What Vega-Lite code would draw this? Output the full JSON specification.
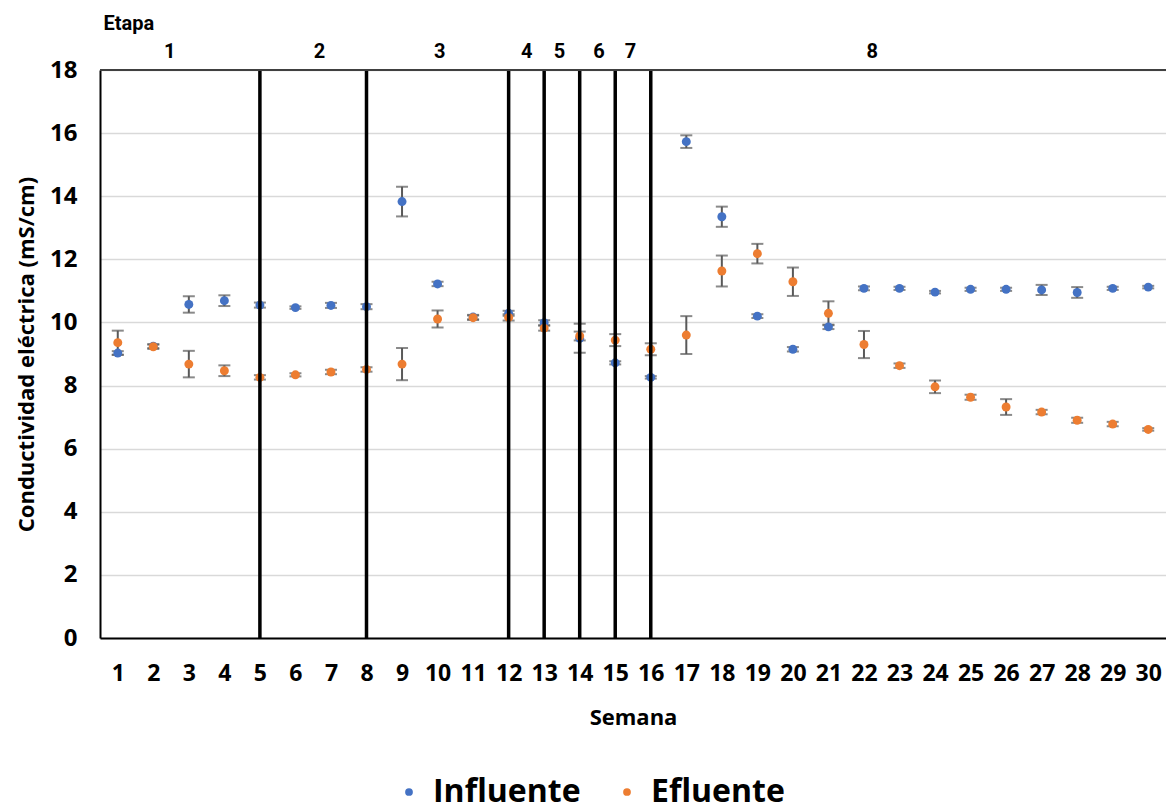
{
  "$schema": "https://vega.github.io/schema/vega-lite/v6.json",
  "width": 1066,
  "height": 568,
  "autosize": {"type": "none"},
  "padding": {"left": 100, "top": 70, "right": 0, "bottom": 173},
  "background": "white",
  "config": {
    "view": {"stroke": null},
    "font": "Open Sans",
    "axis": {"labelFont": "Open Sans", "titleFont": "Open Sans", "labelColor": "#000000", "titleColor": "#000000", "labelOverlap": false}
  },
  "datasets": {
    "medidas": [
      {"semana": 1, "serie": "Influente", "valor": 9.03, "de": 0.06},
      {"semana": 2, "serie": "Influente", "valor": 9.25, "de": 0.06},
      {"semana": 3, "serie": "Influente", "valor": 10.57, "de": 0.26},
      {"semana": 4, "serie": "Influente", "valor": 10.69, "de": 0.17},
      {"semana": 5, "serie": "Influente", "valor": 10.55, "de": 0.08},
      {"semana": 6, "serie": "Influente", "valor": 10.47, "de": 0.04},
      {"semana": 7, "serie": "Influente", "valor": 10.54, "de": 0.08},
      {"semana": 8, "serie": "Influente", "valor": 10.5, "de": 0.08},
      {"semana": 9, "serie": "Influente", "valor": 13.83, "de": 0.47},
      {"semana": 10, "serie": "Influente", "valor": 11.22, "de": 0.07},
      {"semana": 11, "serie": "Influente", "valor": 10.17, "de": 0.07},
      {"semana": 12, "serie": "Influente", "valor": 10.29, "de": 0.08},
      {"semana": 13, "serie": "Influente", "valor": 9.99, "de": 0.08},
      {"semana": 14, "serie": "Influente", "valor": 9.5, "de": 0.46},
      {"semana": 15, "serie": "Influente", "valor": 8.72, "de": 0.05},
      {"semana": 16, "serie": "Influente", "valor": 8.26, "de": 0.04},
      {"semana": 17, "serie": "Influente", "valor": 15.73, "de": 0.2},
      {"semana": 18, "serie": "Influente", "valor": 13.35, "de": 0.32},
      {"semana": 19, "serie": "Influente", "valor": 10.2, "de": 0.06},
      {"semana": 20, "serie": "Influente", "valor": 9.15, "de": 0.07},
      {"semana": 21, "serie": "Influente", "valor": 9.86, "de": 0.07},
      {"semana": 22, "serie": "Influente", "valor": 11.08, "de": 0.06},
      {"semana": 23, "serie": "Influente", "valor": 11.08, "de": 0.05},
      {"semana": 24, "serie": "Influente", "valor": 10.96, "de": 0.04},
      {"semana": 25, "serie": "Influente", "valor": 11.05, "de": 0.05},
      {"semana": 26, "serie": "Influente", "valor": 11.05, "de": 0.05},
      {"semana": 27, "serie": "Influente", "valor": 11.03, "de": 0.16},
      {"semana": 28, "serie": "Influente", "valor": 10.95, "de": 0.17},
      {"semana": 29, "serie": "Influente", "valor": 11.08, "de": 0.05},
      {"semana": 30, "serie": "Influente", "valor": 11.12, "de": 0.04},
      {"semana": 1, "serie": "Efluente", "valor": 9.36, "de": 0.38},
      {"semana": 2, "serie": "Efluente", "valor": 9.23, "de": 0.07},
      {"semana": 3, "serie": "Efluente", "valor": 8.68, "de": 0.42},
      {"semana": 4, "serie": "Efluente", "valor": 8.47, "de": 0.17},
      {"semana": 5, "serie": "Efluente", "valor": 8.26, "de": 0.07},
      {"semana": 6, "serie": "Efluente", "valor": 8.34, "de": 0.05},
      {"semana": 7, "serie": "Efluente", "valor": 8.43, "de": 0.07},
      {"semana": 8, "serie": "Efluente", "valor": 8.51, "de": 0.07},
      {"semana": 9, "serie": "Efluente", "valor": 8.68, "de": 0.51},
      {"semana": 10, "serie": "Efluente", "valor": 10.11, "de": 0.27},
      {"semana": 11, "serie": "Efluente", "valor": 10.15, "de": 0.07},
      {"semana": 12, "serie": "Efluente", "valor": 10.16, "de": 0.1},
      {"semana": 13, "serie": "Efluente", "valor": 9.82, "de": 0.08},
      {"semana": 14, "serie": "Efluente", "valor": 9.57, "de": 0.14},
      {"semana": 15, "serie": "Efluente", "valor": 9.44, "de": 0.19},
      {"semana": 16, "serie": "Efluente", "valor": 9.15, "de": 0.19},
      {"semana": 17, "serie": "Efluente", "valor": 9.6, "de": 0.6},
      {"semana": 18, "serie": "Efluente", "valor": 11.63, "de": 0.49},
      {"semana": 19, "serie": "Efluente", "valor": 12.18, "de": 0.31},
      {"semana": 20, "serie": "Efluente", "valor": 11.29, "de": 0.45},
      {"semana": 21, "serie": "Efluente", "valor": 10.29, "de": 0.38},
      {"semana": 22, "serie": "Efluente", "valor": 9.3, "de": 0.43},
      {"semana": 23, "serie": "Efluente", "valor": 8.63, "de": 0.07},
      {"semana": 24, "serie": "Efluente", "valor": 7.96, "de": 0.2},
      {"semana": 25, "serie": "Efluente", "valor": 7.63, "de": 0.08},
      {"semana": 26, "serie": "Efluente", "valor": 7.32, "de": 0.25},
      {"semana": 27, "serie": "Efluente", "valor": 7.16, "de": 0.07},
      {"semana": 28, "serie": "Efluente", "valor": 6.9, "de": 0.08},
      {"semana": 29, "serie": "Efluente", "valor": 6.78, "de": 0.07},
      {"semana": 30, "serie": "Efluente", "valor": 6.61, "de": 0.04}
    ],
    "cortes": [{"semana": 5}, {"semana": 8}, {"semana": 12}, {"semana": 13}, {"semana": 14}, {"semana": 15}, {"semana": 16}],
    "etapas": [
      {"etapa": "1", "centro": 2.46},
      {"etapa": "2", "centro": 6.68},
      {"etapa": "3", "centro": 10.06},
      {"etapa": "4", "centro": 12.51},
      {"etapa": "5", "centro": 13.43},
      {"etapa": "6", "centro": 14.54},
      {"etapa": "7", "centro": 15.43},
      {"etapa": "8", "centro": 22.23}
    ],
    "titulo": [{"texto": "Etapa", "inicio": 0.6}],
    "borde": [{"tope": 18}]
  },
  "layer": [
    {
      "data": {"name": "medidas"},
      "mark": {"type": "errorbar", "ticks": {"size": 12, "thickness": 2}, "thickness": 2},
      "encoding": {
        "x": {
          "field": "semana", "type": "quantitative",
          "scale": {"domain": [0.5, 30.5], "nice": false, "zero": false},
          "axis": {
            "values": [1,2,3,4,5,6,7,8,9,10,11,12,13,14,15,16,17,18,19,20,21,22,23,24,25,26,27,28,29,30],
            "tickCount": 60, "format": "d",
            "title": "Semana", "titleFontSize": 22, "titleFontWeight": "bold", "titlePadding": 22,
            "labelFontSize": 23, "labelFontWeight": "bold", "labelPadding": 24, "labelFlush": false, "labelOverlap": false,
            "ticks": false, "grid": false, "domainColor": "#000000", "domainWidth": 2
          }
        },
        "y": {
          "field": "valor", "type": "quantitative",
          "scale": {"domain": [0, 18], "nice": false},
          "axis": {
            "values": [0,2,4,6,8,10,12,14,16,18],
            "tickCount": 20, "format": "d",
            "title": "Conductividad eléctrica (mS/cm)", "titleFontSize": 22, "titleFontWeight": "bold", "titlePadding": 11,
            "labelFontSize": 24, "labelFontWeight": "bold", "labelPadding": 23,
            "ticks": false, "grid": true, "gridColor": "#D9D9D9", "gridWidth": 1.5,
            "domainColor": "#000000", "domainWidth": 2
          }
        },
        "yError": {"field": "de"},
        "color": {"value": "#595959"}
      }
    },
    {
      "data": {"name": "medidas"},
      "mark": {"type": "point", "filled": true, "opacity": 1, "size": 80, "shape": "circle"},
      "encoding": {
        "x": {"field": "semana", "type": "quantitative"},
        "y": {"field": "valor", "type": "quantitative"},
        "color": {
          "field": "serie", "type": "nominal",
          "scale": {"domain": ["Influente", "Efluente"], "range": ["#4472C4", "#ED7D31"]},
          "legend": {
            "orient": "none", "legendX": 293, "legendY": 706, "direction": "horizontal", "title": null,
            "labelFontSize": 32, "labelFontWeight": "bold", "labelColor": "#000000", "labelFont": "Open Sans",
            "symbolSize": 60, "symbolType": "circle", "columnPadding": 30, "labelOffset": 8
          }
        }
      }
    },
    {
      "data": {"name": "cortes"},
      "mark": {"type": "rule", "color": "#000000", "strokeWidth": 3.5},
      "encoding": {"x": {"field": "semana", "type": "quantitative"}}
    },
    {
      "data": {"name": "borde"},
      "mark": {"type": "rule", "color": "#404040", "strokeWidth": 2},
      "encoding": {"y": {"field": "tope", "type": "quantitative"}}
    },
    {
      "data": {"name": "etapas"},
      "mark": {"type": "text", "font": "Roboto", "fontWeight": "bold", "fontSize": 20, "align": "center", "baseline": "middle", "color": "#000000"},
      "encoding": {
        "x": {"field": "centro", "type": "quantitative"},
        "y": {"datum": 18.57},
        "text": {"field": "etapa"}
      }
    },
    {
      "data": {"name": "titulo"},
      "mark": {"type": "text", "font": "Roboto", "fontWeight": "bold", "fontSize": 20, "align": "left", "baseline": "middle", "color": "#000000"},
      "encoding": {
        "x": {"field": "inicio", "type": "quantitative"},
        "y": {"datum": 19.45},
        "text": {"field": "texto"}
      }
    }
  ]
}
